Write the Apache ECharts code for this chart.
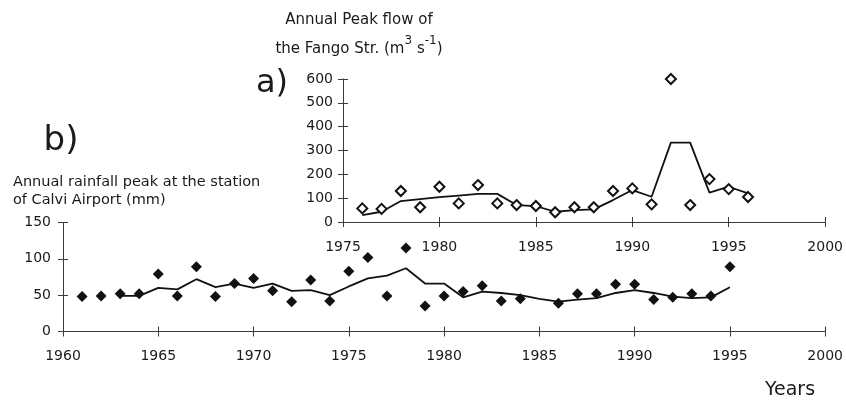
<!DOCTYPE html>
<html>
<head>
<meta charset="utf-8">
<script src="https://cdn.jsdelivr.net/npm/echarts@6/dist/echarts.min.js"></script>
<style>
  html, body { margin: 0; padding: 0; background: #fff; }
  #chart { width: 846px; height: 400px; }
</style>
</head>
<body>
<div id="chart"></div>
<script>
// a) Fango stream annual peak flow (m3 s-1)
const flowYears = [1976, 1977, 1978, 1979, 1980, 1981, 1982, 1983, 1984, 1985, 1986,
                   1987, 1988, 1989, 1990, 1991, 1992, 1993, 1994, 1995, 1996];
const flowPeaks = [57, 55, 130, 62, 148, 78, 155, 78, 71, 67, 41,
                   62, 62, 130, 141, 74, 600, 71, 180, 138, 105];
const flowTrend = [29, 43, 88, 96, 104, 111, 118, 118, 71, 67, 43,
                   50, 53, 92, 134, 106, 333, 333, 123, 148, 120];

// b) Calvi Airport annual rainfall peak (mm)
const rainYears = [1961, 1962, 1963, 1964, 1965, 1966, 1967, 1968, 1969, 1970,
                   1971, 1972, 1973, 1974, 1975, 1976, 1977, 1978, 1979, 1980,
                   1981, 1982, 1983, 1984, 1986, 1987, 1988, 1989, 1990, 1991,
                   1992, 1993, 1994, 1995];
const rainPeaks = [48, 49, 52, 52, 79, 49, 89, 48, 66, 73,
                   56, 41, 71, 42, 83, 102, 49, 115, 35, 49,
                   55, 63, 42, 45, 39, 52, 52, 65, 65, 44,
                   47, 52, 49, 89];
const rainTrendYears = [1963, 1964, 1965, 1966, 1967, 1968, 1969, 1970, 1971, 1972,
                        1973, 1974, 1975, 1976, 1977, 1978, 1979, 1980, 1981, 1982,
                        1983, 1984, 1985, 1986, 1987, 1988, 1989, 1990, 1991, 1992,
                        1993, 1994, 1995];
const rainTrend = [49, 49, 60, 58, 72, 61, 66, 60, 66, 56,
                   57, 50, 62, 73, 77, 87, 66, 66, 47, 55,
                   53, 50, 45, 41, 44, 46, 53, 57, 53, 48,
                   46, 47, 61];

// axis ranges and ticks
const flowXTicks = { min: 1975, max: 2000, step: 5 };
const flowYTicks = { min: 0, max: 600, step: 100 };
const rainXTicks = { min: 1960, max: 2000, step: 5 };
const rainYTicks = { min: 0, max: 150, step: 50 };

const FONT = 'DejaVu Sans';
const INK = '#1a1a1a';
const AXIS = '#3a3a3a';

function pairs(xs, ys) { return xs.map((x, i) => [x, ys[i]]); }
const plain = v => String(v);

function valueAxis(grid, t, pos, margin) {
  return {
    type: 'value', gridIndex: grid, position: pos,
    min: t.min, max: t.max, interval: t.step,
    splitLine: { show: false },
    axisLine: { show: true, onZero: false, lineStyle: { color: AXIS, width: 1 } },
    axisTick: { show: true, inside: false, length: 5, lineStyle: { color: AXIS, width: 1 } },
    axisLabel: { color: INK, fontFamily: FONT, fontSize: 14, margin: margin, formatter: plain }
  };
}
// second copy of an axis drawing the inward half of each tick
function innerTicks(grid, t, pos) {
  return {
    type: 'value', gridIndex: grid, position: pos,
    min: t.min, max: t.max, interval: t.step,
    splitLine: { show: false },
    axisLine: { show: false, onZero: false },
    axisLabel: { show: false },
    axisTick: { show: true, inside: true, length: 5, lineStyle: { color: AXIS, width: 1 } }
  };
}

const chart = echarts.init(document.getElementById('chart'), null, { renderer: 'canvas' });

chart.setOption({
  backgroundColor: '#fff',
  animation: false,
  grid: [
    { left: 343, top: 79, width: 483, height: 143 },
    { left: 63, top: 222.5, width: 763, height: 109 }
  ],
  xAxis: [
    valueAxis(0, flowXTicks, 'bottom', 18),
    innerTicks(0, flowXTicks, 'bottom'),
    valueAxis(1, rainXTicks, 'bottom', 18),
    innerTicks(1, rainXTicks, 'bottom')
  ],
  yAxis: [
    valueAxis(0, flowYTicks, 'left', 10),
    innerTicks(0, flowYTicks, 'left'),
    valueAxis(1, rainYTicks, 'left', 12),
    innerTicks(1, rainYTicks, 'left')
  ],
  series: [
    {
      type: 'line', xAxisIndex: 0, yAxisIndex: 0,
      data: pairs(flowYears, flowTrend),
      showSymbol: false, lineStyle: { color: '#111', width: 1.8 }, z: 2
    },
    {
      type: 'scatter', xAxisIndex: 0, yAxisIndex: 0,
      data: pairs(flowYears, flowPeaks),
      symbol: 'diamond', symbolSize: 10,
      itemStyle: { color: '#fff', borderColor: '#111', borderWidth: 2, opacity: 1 }, z: 3
    },
    {
      type: 'line', xAxisIndex: 2, yAxisIndex: 2,
      data: pairs(rainTrendYears, rainTrend),
      showSymbol: false, lineStyle: { color: '#111', width: 1.8 }, z: 2
    },
    {
      type: 'scatter', xAxisIndex: 2, yAxisIndex: 2,
      data: pairs(rainYears, rainPeaks),
      symbol: 'diamond', symbolSize: 11,
      itemStyle: { color: '#111', opacity: 1 }, z: 3
    }
  ],
  graphic: [
    {
      type: 'text', x: 359, y: 20,
      style: { text: 'Annual Peak flow of', fill: INK, font: '15px "DejaVu Sans"',
               textAlign: 'center', textVerticalAlign: 'middle' }
    },
    {
      type: 'text', x: 359, y: 46,
      style: {
        text: '{n|the Fango Str. (m}{s|3}{n| s}{s|-1}{n|)}',
        textAlign: 'center', textVerticalAlign: 'middle',
        rich: {
          n: { fontFamily: FONT, fontSize: 15, fill: INK, verticalAlign: 'bottom', lineHeight: 22 },
          s: { fontFamily: FONT, fontSize: 12, fill: INK, verticalAlign: 'top', lineHeight: 22 }
        }
      }
    },
    {
      type: 'text', x: 272, y: 84,
      style: { text: 'a)', fill: INK, font: '32px "DejaVu Sans"',
               textAlign: 'center', textVerticalAlign: 'middle' }
    },
    {
      type: 'text', x: 61, y: 141,
      style: { text: 'b)', fill: INK, font: '34px "DejaVu Sans"',
               textAlign: 'center', textVerticalAlign: 'middle' }
    },
    {
      type: 'text', x: 13, y: 182,
      style: { text: 'Annual rainfall peak at the station', fill: INK, font: '14.5px "DejaVu Sans"',
               textAlign: 'left', textVerticalAlign: 'middle' }
    },
    {
      type: 'text', x: 13, y: 200,
      style: { text: 'of Calvi Airport (mm)', fill: INK, font: '14.5px "DejaVu Sans"',
               textAlign: 'left', textVerticalAlign: 'middle' }
    },
    {
      type: 'text', x: 790, y: 390,
      style: { text: 'Years', fill: INK, font: '19px "DejaVu Sans"',
               textAlign: 'center', textVerticalAlign: 'middle' }
    }
  ]
});
</script>
</body>
</html>
